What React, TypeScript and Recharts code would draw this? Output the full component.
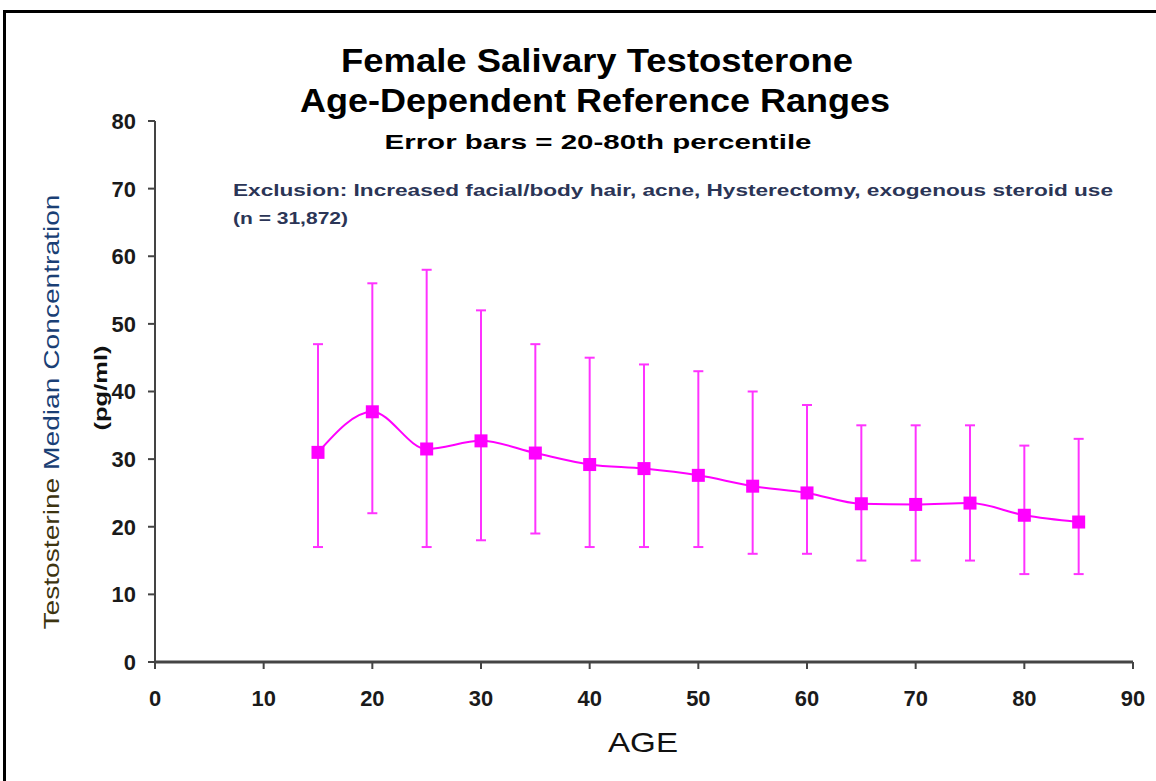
import React from "react";
import { LineChart, Line, XAxis, YAxis, ErrorBar } from "recharts";

const ages = [15, 20, 25, 30, 35, 40, 45, 50, 55, 60, 65, 70, 75, 80, 85];
const median = [31, 37, 31.5, 32.7, 30.9, 29.2, 28.6, 27.6, 26, 25, 23.4, 23.3, 23.5, 21.7, 20.7];
const p20 = [17, 22, 17, 18, 19, 17, 17, 17, 16, 16, 15, 15, 15, 13, 13];
const p80 = [47, 56, 58, 52, 47, 45, 44, 43, 40, 38, 35, 35, 35, 32, 33];
const xTicks = [0, 10, 20, 30, 40, 50, 60, 70, 80, 90];
const yTicks = [0, 10, 20, 30, 40, 50, 60, 70, 80];

const data = ages.map((age, i) => ({
  age,
  median: median[i],
  err: [median[i] - p20[i], p80[i] - median[i]],
}));

const MAG = "#FF00FF";
const FONT = "'Liberation Sans', Arial, sans-serif";

const SquareDot = (props: any) => {
  const { cx, cy } = props;
  if (cx == null || cy == null) return null;
  return <rect x={cx - 6.5} y={cy - 6.5} width={13} height={13} fill={MAG} />;
};

const NumTick = (props: any) => {
  const { x, y, payload, textAnchor, axis } = props;
  const s = String(payload.value);
  return (
    <text
      x={x}
      y={y}
      dy={axis === "x" ? "0.71em" : "0.36em"}
      textAnchor={axis === "x" ? "middle" : "end"}
      fontSize={22}
      fontWeight="bold"
      fontFamily={FONT}
      fill="#1a1a1a"
      textLength={s.length * 12.2}
      lengthAdjust="spacingAndGlyphs"
    >
      {s}
    </text>
  );
};

export default function App() {
  return (
    <div style={{ position: "relative", width: 1156, height: 781, overflow: "hidden", background: "#fff" }}>
      <style>{`body{margin:0;}`}</style>
      <div
        style={{
          position: "absolute",
          left: 3,
          top: 10,
          width: 1170,
          height: 800,
          border: "3px solid #000",
          boxSizing: "border-box",
        }}
      />
      <div style={{ position: "absolute", left: 0, top: 0 }}>
        <LineChart
          width={1156}
          height={781}
          data={data}
          margin={{ top: 121, right: 23, bottom: 0, left: 0 }}
        >
          <XAxis
            type="number"
            dataKey="age"
            domain={[0, 90]}
            ticks={xTicks}
            interval={0}
            height={119}
            tickSize={7}
            tickMargin={21}
            axisLine={{ stroke: "#444", strokeWidth: 3 }}
            tickLine={{ stroke: "#444", strokeWidth: 2 }}
            tick={<NumTick axis="x" />}
          />
          <YAxis
            type="number"
            domain={[0, 80]}
            ticks={yTicks}
            interval={0}
            width={155}
            tickSize={7}
            tickMargin={12}
            axisLine={{ stroke: "#444", strokeWidth: 2 }}
            tickLine={{ stroke: "#444", strokeWidth: 2 }}
            tick={<NumTick axis="y" />}
          />
          <Line
            type="monotone"
            dataKey="median"
            stroke={MAG}
            strokeWidth={2}
            dot={<SquareDot />}
            activeDot={false}
            isAnimationActive={false}
          >
            <ErrorBar dataKey="err" direction="y" width={5} stroke="#FF33FF" strokeWidth={2} />
          </Line>
        </LineChart>
      </div>
      <svg
        width={1156}
        height={781}
        style={{ position: "absolute", left: 0, top: 0, pointerEvents: "none" }}
        fontFamily={FONT}
      >
        <text x={597} y={72} textAnchor="middle" fontSize={33} fontWeight="bold" fill="#000"
          textLength={512} lengthAdjust="spacingAndGlyphs">
          Female Salivary Testosterone
        </text>
        <text x={595} y={112} textAnchor="middle" fontSize={33} fontWeight="bold" fill="#000"
          textLength={590} lengthAdjust="spacingAndGlyphs">
          Age-Dependent Reference Ranges
        </text>
        <text x={598} y={149} textAnchor="middle" fontSize={21} fontWeight="bold" fill="#000"
          textLength={427} lengthAdjust="spacingAndGlyphs">
          Error bars = 20-80th percentile
        </text>
        <text x={233} y={196} fontSize={16} fontWeight="bold" fill="#2b3556"
          textLength={880} lengthAdjust="spacingAndGlyphs">
          Exclusion:  Increased facial/body hair, acne, Hysterectomy, exogenous steroid use
        </text>
        <text x={233} y={224} fontSize={16} fontWeight="bold" fill="#2b3556"
          textLength={115} lengthAdjust="spacingAndGlyphs">
          (n = 31,872)
        </text>
        <text transform="translate(59,412) rotate(-90)" textAnchor="middle" fontSize={22}
          textLength={435} lengthAdjust="spacingAndGlyphs">
          <tspan fill="#3d3410">Testosterine </tspan>
          <tspan fill="#1a3f75">Median Concentration</tspan>
        </text>
        <text transform="translate(107,388) rotate(-90)" textAnchor="middle" fontSize={18}
          fontWeight="bold" fill="#111" textLength={85} lengthAdjust="spacingAndGlyphs">
          (pg/ml)
        </text>
        <text x={643} y={752} textAnchor="middle" fontSize={28} fill="#111"
          textLength={70} lengthAdjust="spacingAndGlyphs">
          AGE
        </text>
      </svg>
    </div>
  );
}
